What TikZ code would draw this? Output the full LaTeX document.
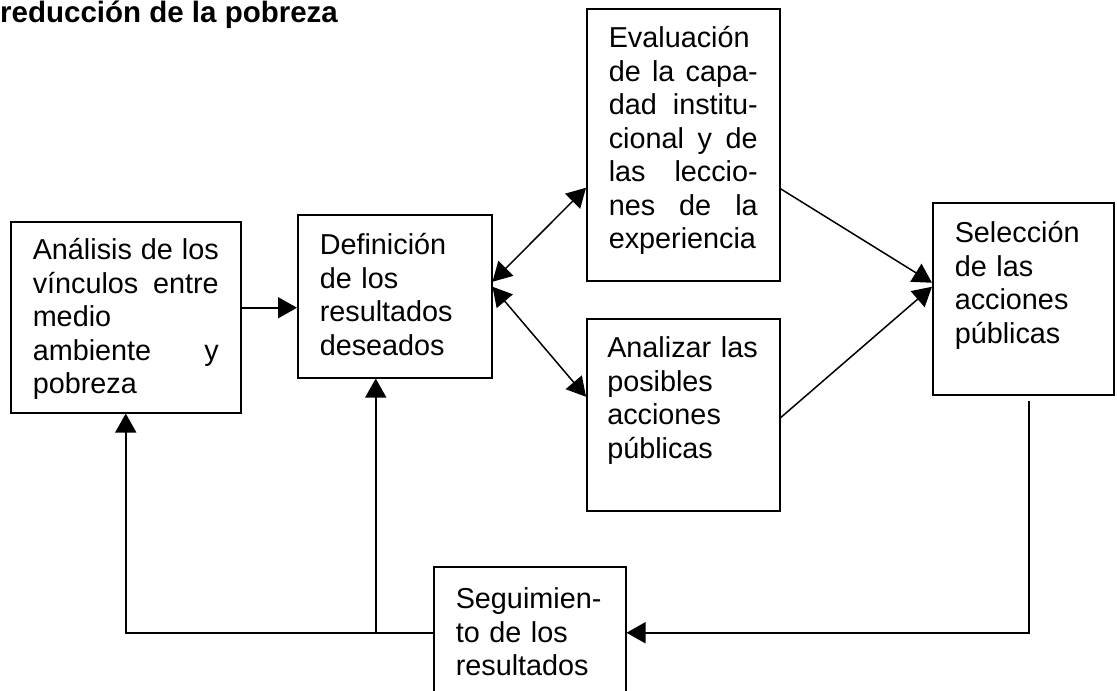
\documentclass[tikz,border=0pt]{standalone}
\usepackage{fontspec}
\setmainfont{Liberation Sans}
\usetikzlibrary{arrows.meta}
\setlength{\parindent}{0pt}

\newcommand\stagefont{\fontsize{28.8}{33.5}\selectfont}
\newcommand\headfont{\fontsize{29.5}{34}\selectfont\bfseries}

\tikzset{
  stage/.style={draw, line width=1.5pt, anchor=north west,
    inner xsep=22pt, inner ysep=0pt, align=left, font=\stagefont},
  flow/.style={line width=1.5pt, -{Triangle[length=19pt,width=21pt]}},
  twoway/.style={line width=1.5pt,
    {Triangle[length=19pt,width=21pt]}-{Triangle[length=19pt,width=21pt]}}
}

\begin{document}
\begin{tikzpicture}[x=1pt,y=-1pt]
    \useasboundingbox (0,0) rectangle (1117,691);
    \clip (0,0) rectangle (1117,691);
    %
    \node[font=\headfont, anchor=base west, inner sep=0pt] (heading) at (0,22.5)
      {reducción de la pobreza};
    %
    \node[stage, text width=186pt, text height=38pt, text depth=153pt] (analisis) at (10,221)
      {Análisis\hfill de\hfill los\\ vínculos\hfill entre\\ medio\\ ambiente\hfill y\\ pobreza};
    \node[stage, text width=150pt, text height=40pt, text depth=123pt] (definicion) at (297,214)
      {Definición\\ de los\\ resultados\\ deseados};
    \node[stage, text width=149pt, text height=39pt, text depth=233pt] (evaluacion) at (586,8)
      {Evaluación\\ de\hfill la\hfill capa-\\ dad\hfill institu-\\ cional\hfill y\hfill de\\
       las\hfill leccio-\\ nes\hfill de\hfill la\\ experiencia};
    \node[stage, inner xsep=20.5pt, text width=152pt, text height=39pt, text depth=153pt] (analizar) at (586,318)
      {Analizar~las\\ posibles\\ acciones\\ públicas};
    \node[stage, text width=137pt, text height=40pt, text depth=152pt] (seleccion) at (932,202)
      {Selección\\ de las\\ acciones\\ públicas};
    \node[stage, text width=148pt, text height=42pt, text depth=90pt] (seguimiento) at (433,566)
      {Seguimien-\\ to de los\\ resultados};
    %
    \coordinate (join) at ([xshift=-19pt]definicion.south |- seguimiento.west);
    \coordinate (drop) at ([xshift=5.5pt,yshift=-5pt]seleccion.south);
    %
    \draw[flow] ([yshift=9.5pt]analisis.east) -- ([yshift=-11.5pt]definicion.west);
    \draw[twoway] ([yshift=14.5pt]definicion.east) -- ([yshift=-43pt]evaluacion.west);
    \draw[twoway] ([yshift=9.5pt]definicion.east) -- ([yshift=18pt]analizar.west);
    \draw[flow] ([yshift=-44pt]evaluacion.east) -- ([yshift=16pt]seleccion.west);
    \draw[flow] ([yshift=-3pt]analizar.east) -- ([yshift=12pt]seleccion.west);
    %
    \draw[flow] (drop) |- (seguimiento.east);
    \draw[flow] (seguimiento.west) -| (analisis.south);
    \draw[flow] (join) -- ([xshift=-19pt]definicion.south);
\end{tikzpicture}
\end{document}
